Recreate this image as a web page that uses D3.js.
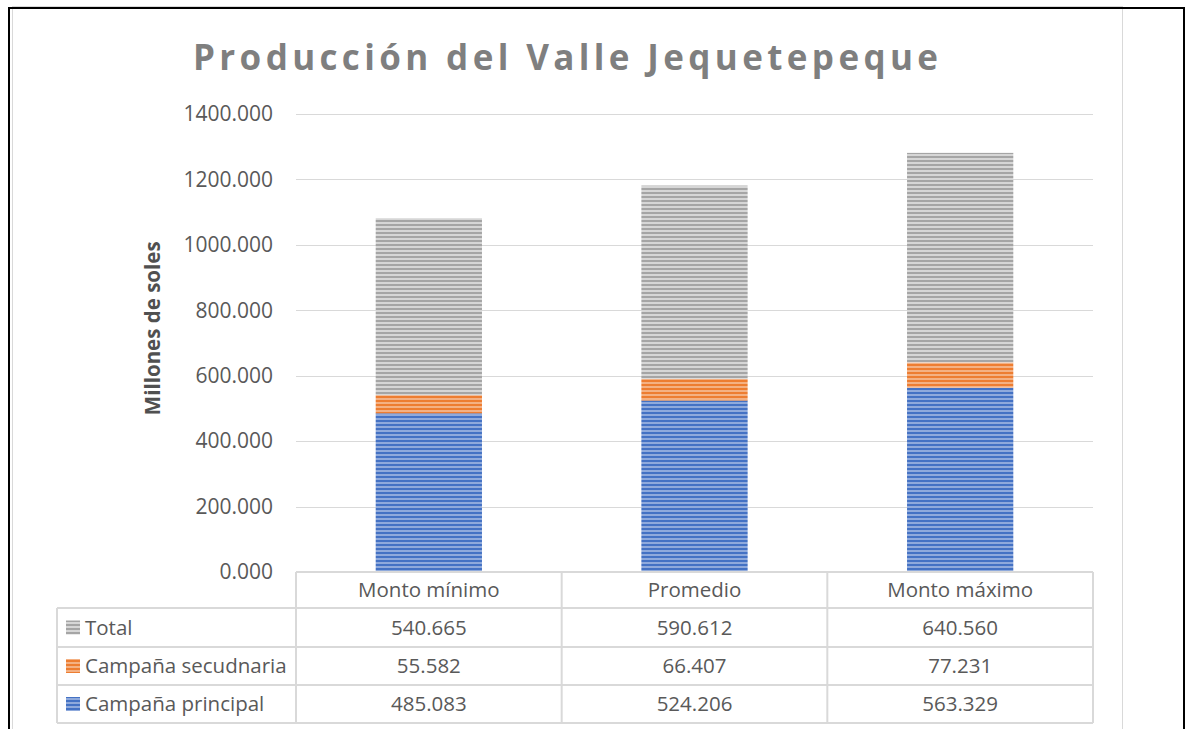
<!DOCTYPE html>
<html>
<head>
<meta charset="utf-8">
<script src="https://cdn.jsdelivr.net/npm/d3@7"></script>
<style>
  body { margin: 0; background: #fff; }
  text { font-family: 'Open Sans', sans-serif; }
</style>
</head>
<body>
<script>
  // datos
  const categories = ['Monto mínimo', 'Promedio', 'Monto máximo'];
  const seriesNames = ['Campaña principal', 'Campaña secudnaria', 'Total'];
  const principal = [485.083, 524.206, 563.329];
  const secundaria = [55.582, 66.407, 77.231];
  const total = [540.665, 590.612, 640.560];
  const yTicks = [0, 200, 400, 600, 800, 1000, 1200, 1400];

  const colors = ['#4472C4', '#ED7D31', '#A5A5A5'];
  const lightColors = ['#8FAADC', '#F4B183', '#D6D6D6'];

  const width = 1186;
  const height = 729;
  const margin = { top: 114, right: 93, bottom: 157, left: 296 };

  const rows = categories.map((c, i) => ({
    cat: c,
    principal: principal[i],
    secundaria: secundaria[i],
    total: total[i],
  }));
  const keys = ['principal', 'secundaria', 'total'];

  const svg = d3.select('body')
    .append('svg')
    .attr('width', width)
    .attr('height', height);

  const defs = svg.append('defs');
  keys.forEach((k, i) => {
    const p = defs.append('pattern')
      .attr('id', 'pat-' + k)
      .attr('patternUnits', 'userSpaceOnUse')
      .attr('width', 4)
      .attr('height', 4);
    p.append('rect').attr('width', 4).attr('height', 4).attr('fill', colors[i]);
    p.append('rect').attr('y', 2).attr('width', 4).attr('height', 2).attr('fill', lightColors[i]);
  });

  // marcos
  svg.append('rect')
    .attr('x', 12.5).attr('y', 6.5)
    .attr('width', 1110).attr('height', 740)
    .attr('fill', 'none').attr('stroke', '#d9d9d9');
  svg.append('rect')
    .attr('x', 9).attr('y', 8)
    .attr('width', 1175).attr('height', 740)
    .attr('fill', 'none').attr('stroke', '#000').attr('stroke-width', 2);

  const x = d3.scaleBand()
    .domain(categories)
    .range([margin.left, width - margin.right])
    .paddingInner(0.6)
    .paddingOuter(0.3);

  const y = d3.scaleLinear()
    .domain([0, 1400])
    .range([height - margin.bottom, margin.top]);

  // gridlines
  svg.append('g')
    .selectAll('line')
    .data(yTicks.filter((d) => d > 0))
    .join('line')
    .attr('x1', margin.left)
    .attr('x2', width - margin.right)
    .attr('y1', (d) => Math.round(y(d)) + 0.5)
    .attr('y2', (d) => Math.round(y(d)) + 0.5)
    .attr('stroke', '#d9d9d9');

  // eje y
  const yAxis = svg.append('g')
    .attr('transform', `translate(${margin.left},0)`)
    .call(d3.axisLeft(y).tickValues(yTicks).tickFormat(d3.format('.3f')).tickSize(0).tickPadding(23));
  yAxis.select('.domain').remove();
  yAxis.selectAll('text')
    .attr('fill', '#595959')
    .style('font-size', '21px')
    .style('font-family', 'Open Sans');

  // barras apiladas
  const stacked = d3.stack().keys(keys)(rows);
  svg.append('g')
    .selectAll('g')
    .data(stacked)
    .join('g')
    .attr('fill', (d) => `url(#pat-${d.key})`)
    .selectAll('rect')
    .data((d) => d)
    .join('rect')
    .attr('x', (d) => x(d.data.cat))
    .attr('y', (d) => y(d[1]))
    .attr('width', x.bandwidth())
    .attr('height', (d) => y(d[0]) - y(d[1]));

  // titulo
  svg.append('text')
    .attr('x', 193)
    .attr('y', 70)
    .attr('textLength', 745)
    .attr('lengthAdjust', 'spacing')
    .attr('fill', '#7f7f7f')
    .style('font-size', '35px')
    .style('font-weight', 'bold')
    .text('Producción del Valle Jequetepeque');

  svg.append('text')
    .attr('transform', `translate(160,${y(745)}) rotate(-90)`)
    .attr('text-anchor', 'middle')
    .attr('fill', '#505050')
    .style('font-size', '20.5px')
    .style('font-weight', 'bold')
    .text('Millones de soles');

  // tabla de datos
  const tableTop = height - margin.bottom;
  const rowEdges = [tableTop, 608, 647, 685, 723];
  const tableLeft = 57;
  const colEdges = [margin.left].concat(categories.map((c) => x(c) + x.bandwidth() / 2 + x.step() / 2));
  const table = svg.append('g');
  const line = (x1, y1, x2, y2) => table.append('line')
    .attr('x1', x1).attr('y1', y1).attr('x2', x2).attr('y2', y2)
    .attr('stroke', '#d9d9d9').attr('stroke-width', 2);

  line(margin.left, rowEdges[0], width - margin.right, rowEdges[0]);
  rowEdges.slice(1).forEach((r) => line(tableLeft, r, width - margin.right, r));
  line(tableLeft, rowEdges[1], tableLeft, rowEdges[4]);
  colEdges.forEach((c) => line(c, rowEdges[0], c, rowEdges[4]));

  table.selectAll('.cat')
    .data(categories)
    .join('text')
    .attr('x', (d) => x(d) + x.bandwidth() / 2)
    .attr('y', (rowEdges[0] + rowEdges[1]) / 2)
    .attr('dy', '0.35em')
    .attr('text-anchor', 'middle')
    .attr('fill', '#595959')
    .style('font-size', '20.5px')
    .text((d) => d);

  const tableSeries = [
    { key: 'total', name: seriesNames[2], values: total, ci: 2 },
    { key: 'secundaria', name: seriesNames[1], values: secundaria, ci: 1 },
    { key: 'principal', name: seriesNames[0], values: principal, ci: 0 },
  ];

  tableSeries.forEach((s, r) => {
    const cy = (rowEdges[r + 1] + rowEdges[r + 2]) / 2;
    table.append('rect')
      .attr('x', 66)
      .attr('y', cy - 7)
      .attr('width', 14)
      .attr('height', 14)
      .attr('fill', `url(#pat-${s.key})`);
    table.append('text')
      .attr('x', 85)
      .attr('y', cy)
      .attr('dy', '0.35em')
      .attr('fill', '#595959')
      .style('font-size', '20.5px')
      .text(s.name);
    s.values.forEach((v, i) => {
      table.append('text')
        .attr('x', x(categories[i]) + x.bandwidth() / 2)
        .attr('y', cy)
        .attr('dy', '0.35em')
        .attr('text-anchor', 'middle')
        .attr('fill', '#595959')
        .style('font-size', '20.5px')
        .text(d3.format('.3f')(v));
    });
  });
</script>
</body>
</html>
